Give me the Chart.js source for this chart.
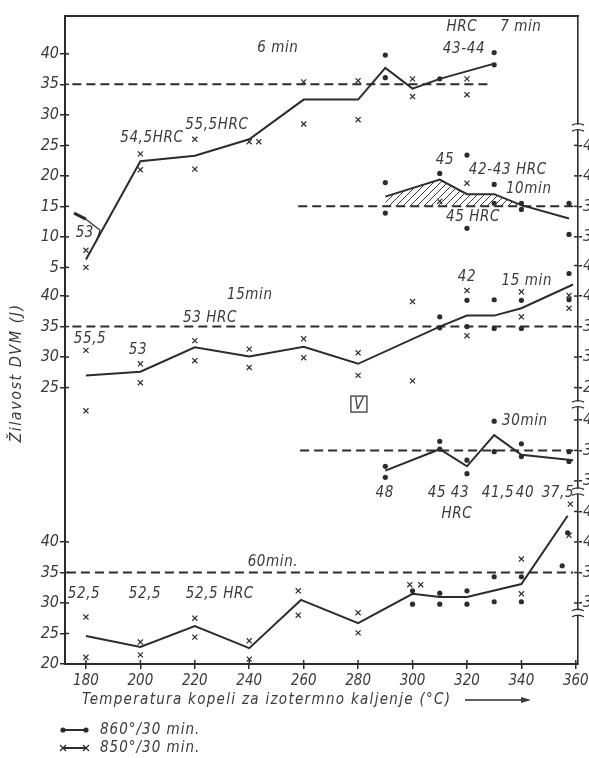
<!DOCTYPE html>
<html>
<head>
<meta charset="utf-8">
<script src="https://cdn.jsdelivr.net/npm/chart.js@4.4.0/dist/chart.umd.min.js"></script>
<style>
  html, body { margin: 0; padding: 0; background: #fff; overflow: hidden; }
</style>
</head>
<body>
<canvas id="graf" width="607" height="758"></canvas>
<script>
// Temperature kopeli (°C)
const A_TEMP = [180, 200, 220, 240, 260, 280, 300, 320, 340, 360];
const N_SEUIL = 35;

// Décalage vertical de chaque panneau (J)
const N_OFF_6 = 80;
const N_OFF_10 = 60;
const N_OFF_15 = 40.3;
const N_OFF_30 = 20;
const N_OFF_60 = 0;

// Graduations de gauche / de droite
const A_TICK_6 = [5, 10, 15, 20, 25, 30, 35, 40];
const A_TICK_15 = [25, 30, 35, 40];
const A_TICK_60 = [20, 25, 30, 35, 40];
const A_TICKR_10 = [30, 35, 40, 45];
const A_TICKR_15 = [25, 30, 35, 40, 45];
const A_TICKR_30 = [30, 35, 40];
const A_TICKR_60 = [30, 35, 40, 45];

// 6 min / 7 min
const A_T_LINE_6 = [180, 200, 220, 240, 260, 280, 290, 300, 310, 330];
const A_J_LINE_6 = [6.3, 22.4, 23.3, 26.0, 32.5, 32.5, 37.7, 34.3, 35.9, 38.4];
const A_T_X_6 = [180, 180, 200, 200, 220, 220, 240, 243.5, 260, 260, 280, 280, 300, 300, 320, 320];
const A_J_X_6 = [7.8, 5.0, 23.6, 21.0, 26.0, 21.1, 25.6, 25.6, 35.4, 28.5, 35.6, 29.2, 35.9, 33.0, 35.9, 33.3];
const A_T_DOT_7 = [290, 290, 310, 330, 330];
const A_J_DOT_7 = [39.8, 36.1, 35.9, 40.2, 38.2];
const A_DASH_6 = [175, 328];

// 10 min
const A_T_LINE_10 = [290, 310, 320, 330, 340, 357.5];
const A_J_LINE_10 = [36.6, 39.4, 37.0, 37.0, 35.2, 33.0];
const A_T_DOT_10 = [290, 290, 310, 320, 320, 330, 330, 340, 340, 357.5, 357.5];
const A_J_DOT_10 = [38.9, 33.9, 40.4, 43.4, 31.4, 38.6, 35.5, 35.5, 34.5, 35.5, 30.4];
const A_T_X_10 = [310, 320];
const A_J_X_10 = [35.8, 38.8];
const A_DASH_10 = [258, 360];

// 15 min
const A_T_LINE_15 = [180, 200, 220, 240, 260, 280, 310, 320, 330, 340, 359];
const A_J_LINE_15 = [27.0, 27.6, 31.6, 30.1, 31.7, 28.9, 35.0, 36.8, 36.8, 38.0, 41.9];
const A_T_X_15 = [180, 180, 200, 200, 220, 220, 240, 240, 260, 260, 280, 280, 300, 300, 320, 320, 340, 340, 357.5, 357.5];
const A_J_X_15 = [31.1, 21.2, 28.9, 25.8, 32.7, 29.4, 31.3, 28.3, 33.0, 29.9, 30.7, 27.0, 39.1, 26.1, 40.9, 33.5, 40.7, 36.6, 40.1, 38.0];
const A_T_DOT_15 = [310, 310, 320, 320, 330, 330, 340, 340, 357.5, 357.5];
const A_J_DOT_15 = [36.6, 34.8, 39.3, 35.0, 39.4, 34.7, 39.3, 34.7, 43.7, 39.4];
const A_DASH_15 = [175, 359];

// 30 min
const A_T_LINE_30 = [290, 310, 320, 330, 340, 359];
const A_J_LINE_30 = [31.7, 35.2, 32.4, 37.5, 34.3, 33.4];
const A_T_DOT_30 = [290, 290, 310, 310, 320, 320, 330, 330, 340, 340, 357.5, 357.5];
const A_J_DOT_30 = [32.4, 30.6, 36.5, 35.2, 33.4, 31.2, 39.8, 34.8, 36.1, 34.0, 34.8, 33.2];
const A_DASH_30 = [258.7, 359];

// 60 min
const A_T_LINE_60 = [180, 200, 220, 240, 259, 280, 300, 310, 320, 340, 357];
const A_J_LINE_60 = [24.6, 22.8, 26.2, 22.6, 30.5, 26.7, 31.5, 31.0, 31.0, 33.1, 44.3];
const A_T_X_60 = [180, 180, 200, 200, 220, 220, 240, 240, 258, 258, 280, 280, 299, 303, 340, 340, 357.5, 358];
const A_J_X_60 = [27.7, 21.1, 23.6, 21.5, 27.5, 24.4, 23.8, 20.8, 32.0, 28.0, 28.4, 25.1, 33.0, 33.0, 37.2, 31.5, 41.1, 46.2];
const A_T_DOT_60 = [300, 300, 310, 310, 320, 320, 330, 330, 340, 340, 355, 357];
const A_J_DOT_60 = [32.0, 29.8, 31.6, 29.8, 32.0, 29.8, 34.3, 30.2, 34.3, 30.2, 36.1, 41.5];
const A_DASH_60 = [173, 359];

// Textes du graphique : [texte, T, J, décalage]
const A_TEXTES = [
  ["6 min", 250.5, 41.0, N_OFF_6],
  ["54,5HRC", 204.2, 26.2, N_OFF_6],
  ["55,5HRC", 228.1, 28.4, N_OFF_6],
  ["53", 179.6, 10.7, N_OFF_6],
  ["HRC", 318.1, 44.3, N_OFF_6],
  ["7 min", 339.8, 44.3, N_OFF_6],
  ["43-44", 318.9, 40.8, N_OFF_6],
  ["45", 311.9, 42.6, N_OFF_10],
  ["42-43 HRC", 335.0, 41.0, N_OFF_10],
  ["10min", 342.7, 37.9, N_OFF_10],
  ["45 HRC", 322.2, 33.3, N_OFF_10],
  ["15min", 240.2, 40.2, N_OFF_15],
  ["53 HRC", 225.6, 36.4, N_OFF_15],
  ["55,5", 181.5, 33.0, N_OFF_15],
  ["53", 199.1, 31.2, N_OFF_15],
  ["42", 320.0, 43.1, N_OFF_15],
  ["15 min", 342.0, 42.5, N_OFF_15],
  ["30min", 341.3, 39.8, N_OFF_30],
  ["48", 289.8, 28.0, N_OFF_30],
  ["45", 309.0, 28.0, N_OFF_30],
  ["43", 317.4, 28.0, N_OFF_30],
  ["41,5", 331.4, 28.0, N_OFF_30],
  ["40", 341.3, 28.0, N_OFF_30],
  ["37,5", 353.4, 28.0, N_OFF_30],
  ["HRC", 316.3, 24.6, N_OFF_30],
  ["60min.", 248.7, 36.7, N_OFF_60],
  ["52,5", 179.3, 31.5, N_OFF_60],
  ["52,5", 201.7, 31.5, N_OFF_60],
  ["52,5 HRC", 229.2, 31.5, N_OFF_60],
];

// Coupures de l'axe de droite (J virtuels)
const A_COUPURES = [108, 62.6, 48.3, 28.4];

const S_INK = "#2c2c2c";
const S_TXT = "#3a3a3a";
const S_FAMILY = "'DejaVu Sans Condensed', 'Liberation Sans Narrow', 'DejaVu Sans', sans-serif";

/**
 * Construit les points {x, y} d'une série avec le décalage du panneau.
 */
function F_pts(A_t, A_j, N_off) {
  return A_t.map((N_t, I_i) => ({ x: N_t, y: A_j[I_i] + N_off }));
}

function F_ligne(A_t, A_j, N_off) {
  return { data: F_pts(A_t, A_j, N_off), borderColor: S_INK, borderWidth: 2, pointRadius: 0, fill: false, tension: 0 };
}

function F_tirets(A_range, N_off) {
  return {
    data: A_range.map((N_t) => ({ x: N_t, y: N_SEUIL + N_off })),
    borderColor: S_INK, borderWidth: 2, borderDash: [9, 5], pointRadius: 0, fill: false,
  };
}

function F_croix(A_t, A_j, N_off) {
  return {
    data: F_pts(A_t, A_j, N_off), showLine: false, pointStyle: "crossRot",
    pointRadius: 3.6, borderColor: S_INK, borderWidth: 1.2, backgroundColor: S_INK,
  };
}

function F_points(A_t, A_j, N_off) {
  return {
    data: F_pts(A_t, A_j, N_off), showLine: false, pointStyle: "circle",
    pointRadius: 2.6, borderWidth: 0, backgroundColor: S_INK, borderColor: S_INK,
  };
}

function F_ticks(A_vals, N_off) {
  return A_vals.map((N_j) => ({ v: N_j + N_off, s: String(N_j) }));
}

const A_TICKS_G = [...F_ticks(A_TICK_60, N_OFF_60), ...F_ticks(A_TICK_15, N_OFF_15), ...F_ticks(A_TICK_6, N_OFF_6)];
const A_TICKS_D = [
  ...F_ticks(A_TICKR_60, N_OFF_60), ...F_ticks(A_TICKR_30, N_OFF_30),
  ...F_ticks(A_TICKR_15, N_OFF_15), ...F_ticks(A_TICKR_10, N_OFF_10),
];

const O_canvas = document.getElementById("graf");
const O_ctx = O_canvas.getContext("2d");

// Hachures de la zone 10 min
const O_tuile = document.createElement("canvas");
O_tuile.width = 7;
O_tuile.height = 7;
const O_tctx = O_tuile.getContext("2d");
O_tctx.strokeStyle = "#3a3a3a";
O_tctx.lineWidth = 1;
O_tctx.beginPath();
O_tctx.moveTo(0, 7); O_tctx.lineTo(7, 0);
O_tctx.moveTo(-1, 1); O_tctx.lineTo(1, -1);
O_tctx.moveTo(6, 8); O_tctx.lineTo(8, 6);
O_tctx.stroke();
const O_hachures = O_ctx.createPattern(O_tuile, "repeat");

const A_ZONE_10 = A_T_LINE_10.filter((N_t, I_i) => A_J_LINE_10[I_i] >= N_SEUIL);

const A_DATASETS = [
  {
    data: F_pts(A_ZONE_10, A_J_LINE_10, N_OFF_10),
    borderWidth: 0, pointRadius: 0, backgroundColor: O_hachures,
    fill: { value: N_SEUIL + N_OFF_10 },
  },
  F_tirets(A_DASH_6, N_OFF_6),
  F_tirets(A_DASH_10, N_OFF_10),
  F_tirets(A_DASH_15, N_OFF_15),
  F_tirets(A_DASH_30, N_OFF_30),
  F_tirets(A_DASH_60, N_OFF_60),
  F_ligne(A_T_LINE_6, A_J_LINE_6, N_OFF_6),
  F_ligne(A_T_LINE_10, A_J_LINE_10, N_OFF_10),
  F_ligne(A_T_LINE_15, A_J_LINE_15, N_OFF_15),
  F_ligne(A_T_LINE_30, A_J_LINE_30, N_OFF_30),
  F_ligne(A_T_LINE_60, A_J_LINE_60, N_OFF_60),
  F_croix(A_T_X_6, A_J_X_6, N_OFF_6),
  F_croix(A_T_X_10, A_J_X_10, N_OFF_10),
  F_croix(A_T_X_15, A_J_X_15, N_OFF_15),
  F_croix(A_T_X_60, A_J_X_60, N_OFF_60),
  F_points(A_T_DOT_7, A_J_DOT_7, N_OFF_6),
  F_points(A_T_DOT_10, A_J_DOT_10, N_OFF_10),
  F_points(A_T_DOT_15, A_J_DOT_15, N_OFF_15),
  F_points(A_T_DOT_30, A_J_DOT_30, N_OFF_30),
  F_points(A_T_DOT_60, A_J_DOT_60, N_OFF_60),
];

/**
 * Cadre, coupures, textes, titres et légende dessinés par-dessus le graphique.
 */
const O_decor = {
  id: "decor",
  afterDraw(O_chart) {
    const O_c = O_chart.ctx;
    const O_x = O_chart.scales.x;
    const O_y = O_chart.scales.y;
    const O_yr = O_chart.scales.yR;
    const { left, right, top, bottom } = O_chart.chartArea;
    const F_px = (N_t) => O_x.getPixelForValue(N_t);
    const F_py = (N_v) => O_y.getPixelForValue(N_v);
    const F_seg = (x1, y1, x2, y2) => { O_c.beginPath(); O_c.moveTo(x1, y1); O_c.lineTo(x2, y2); O_c.stroke(); };

    O_c.save();
    O_c.strokeStyle = S_INK;
    O_c.fillStyle = S_INK;

    // Cadre supérieur
    O_c.lineWidth = 2;
    F_seg(left - 1, top, right + 1, top);

    // Graduations vers l'intérieur
    O_c.lineWidth = 1.5;
    O_y.ticks.forEach((O_t) => F_seg(left, F_py(O_t.value), left + 4, F_py(O_t.value)));
    O_yr.ticks.forEach((O_t) => F_seg(right - 4, F_py(O_t.value), right, F_py(O_t.value)));
    O_x.ticks.forEach((O_t) => F_seg(F_px(O_t.value), bottom, F_px(O_t.value), bottom - 4));

    // Coupures de l'axe droit
    A_COUPURES.forEach((N_v) => {
      const N_y = F_py(N_v);
      O_c.fillStyle = "#fff";
      O_c.fillRect(right - 3, N_y - 2.5, 6, 5);
      O_c.lineWidth = 1.3;
      [-3, 3].forEach((N_d) => {
        O_c.beginPath();
        O_c.moveTo(right - 6, N_y + N_d + 1);
        O_c.quadraticCurveTo(right, N_y + N_d - 2, right + 6, N_y + N_d + 1);
        O_c.stroke();
      });
    });
    O_c.fillStyle = S_INK;

    // Trait repère près de « 53 »
    O_c.lineWidth = 3;
    F_seg(F_px(175.6), F_py(13.9 + N_OFF_6), F_px(180), F_py(12.9 + N_OFF_6));
    O_c.lineWidth = 1.2;
    O_c.beginPath();
    O_c.moveTo(F_px(180), F_py(12.9 + N_OFF_6));
    O_c.lineTo(F_px(185.2), F_py(11.1 + N_OFF_6));
    O_c.lineTo(F_px(184.0), F_py(9.5 + N_OFF_6));
    O_c.stroke();

    // Textes
    O_c.fillStyle = S_TXT;
    O_c.font = "italic 15px " + S_FAMILY;
    O_c.letterSpacing = "0.6px";
    O_c.textAlign = "center";
    O_c.textBaseline = "middle";
    A_TEXTES.forEach(([S_t, N_t, N_j, N_off]) => O_c.fillText(S_t, F_px(N_t), F_py(N_j + N_off)));

    // Encadré « V »
    const N_vx = F_px(280.3);
    const N_vy = F_py(22.3 + N_OFF_15);
    O_c.lineWidth = 1.3;
    O_c.strokeStyle = S_TXT;
    O_c.strokeRect(N_vx - 8, N_vy - 8, 16, 16);
    O_c.fillText("V", N_vx, N_vy + 1);

    // Titre de l'axe Y
    O_c.save();
    O_c.font = "italic 16px " + S_FAMILY;
    O_c.letterSpacing = "1.5px";
    O_c.translate(17, F_py(67.7));
    O_c.rotate(-Math.PI / 2);
    O_c.fillText("Žilavost DVM (J)", 0, 0);
    O_c.restore();

    // Titre de l'axe X avec flèche
    const N_ty = bottom + 36;
    O_c.textAlign = "left";
    O_c.letterSpacing = "1.3px";
    O_c.fillText("Temperatura kopeli za izotermno kaljenje (°C)", left + 17, N_ty);
    O_c.strokeStyle = S_INK;
    O_c.lineWidth = 1.5;
    F_seg(465, N_ty, 524, N_ty);
    O_c.beginPath();
    O_c.moveTo(531, N_ty);
    O_c.lineTo(521, N_ty - 3);
    O_c.lineTo(521, N_ty + 3);
    O_c.closePath();
    O_c.fill();

    // Légende
    const N_l1 = bottom + 66;
    const N_l2 = bottom + 84;
    O_c.fillStyle = S_INK;
    O_c.lineWidth = 2;
    F_seg(63, N_l1, 86, N_l1);
    [63, 86].forEach((N_lx) => { O_c.beginPath(); O_c.arc(N_lx, N_l1, 2.6, 0, Math.PI * 2); O_c.fill(); });
    F_seg(63, N_l2, 86, N_l2);
    O_c.lineWidth = 1.2;
    [63, 86].forEach((N_lx) => { F_seg(N_lx - 3, N_l2 - 3, N_lx + 3, N_l2 + 3); F_seg(N_lx - 3, N_l2 + 3, N_lx + 3, N_l2 - 3); });
    O_c.fillStyle = S_TXT;
    O_c.font = "italic 15px " + S_FAMILY;
    O_c.letterSpacing = "1px";
    O_c.fillText("860°/30 min.", 100, N_l1);
    O_c.fillText("850°/30 min.", 100, N_l2);

    O_c.restore();
  },
};

const O_fontAxe = { family: S_FAMILY, size: 16, style: "italic" };

new Chart(O_ctx, {
  type: "line",
  data: { datasets: A_DATASETS },
  options: {
    responsive: false,
    animation: false,
    events: [],
    layout: { padding: { top: 16, bottom: 68, left: 0, right: 0 } },
    plugins: { legend: { display: false }, tooltip: { enabled: false } },
    scales: {
      x: {
        type: "linear",
        min: 172.3,
        max: 360.8,
        afterBuildTicks: (O_s) => { O_s.ticks = A_TEMP.map((N_t) => ({ value: N_t })); },
        afterFit: (O_s) => { O_s.height = 26; O_s.paddingLeft = 0; O_s.paddingRight = 0; },
        ticks: { autoSkip: false, maxRotation: 0, padding: 3, color: S_TXT, font: { family: S_FAMILY, size: 15, style: "italic" }, callback: (N_v) => String(N_v) },
        grid: { drawOnChartArea: false, tickLength: 5, color: S_INK, lineWidth: 1.5 },
        border: { color: S_INK, width: 2 },
      },
      y: {
        type: "linear",
        position: "left",
        min: 20,
        max: 126.2,
        afterBuildTicks: (O_s) => { O_s.ticks = A_TICKS_G.map((O_t) => ({ value: O_t.v })); },
        afterFit: (O_s) => { O_s.width = 65; O_s.paddingTop = 0; O_s.paddingBottom = 0; },
        ticks: { autoSkip: false, padding: 1, color: S_TXT, font: O_fontAxe, callback: (N_v, I_i) => A_TICKS_G[I_i].s },
        grid: { drawOnChartArea: false, tickLength: 5, color: S_INK, lineWidth: 1.5 },
        border: { color: S_INK, width: 2 },
      },
      yR: {
        type: "linear",
        position: "right",
        min: 20,
        max: 126.2,
        afterBuildTicks: (O_s) => { O_s.ticks = A_TICKS_D.map((O_t) => ({ value: O_t.v })); },
        afterFit: (O_s) => { O_s.width = 29; O_s.paddingTop = 0; O_s.paddingBottom = 0; },
        ticks: { autoSkip: false, padding: 1, color: S_TXT, font: O_fontAxe, callback: (N_v, I_i) => A_TICKS_D[I_i].s },
        grid: { drawOnChartArea: false, tickLength: 4, color: S_INK, lineWidth: 1.5 },
        border: { color: S_INK, width: 1.6 },
      },
    },
  },
  plugins: [O_decor],
});
</script>
</body>
</html>
